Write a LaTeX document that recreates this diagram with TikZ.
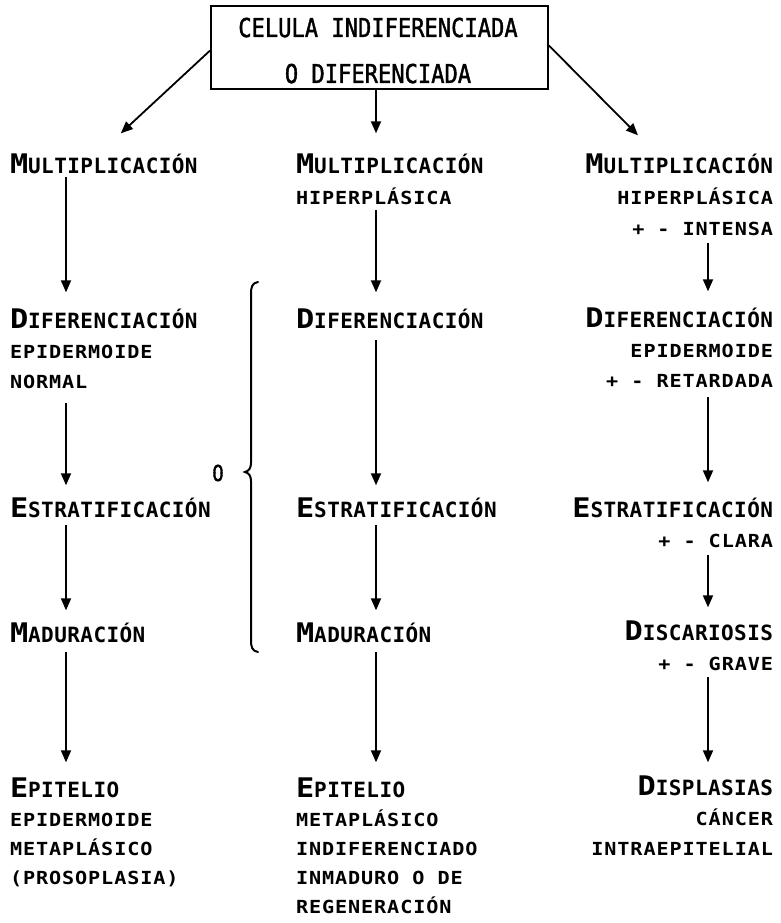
\documentclass[tikz,border=0pt]{standalone}
\usepackage{fontspec}
\usetikzlibrary{arrows.meta,calc}
\setmainfont{DejaVu Sans Mono}
\newfontfamily\titlefont{DejaVu Sans Mono}[FakeStretch=0.85,FakeBold=1.5]
\newfontfamily\headfont{DejaVu Sans Mono}[LetterSpace=2]
\newfontfamily\subfont{DejaVu Sans Mono}[FakeStretch=1.12,LetterSpace=5]
\newcommand\Ini[1]{{\fontsize{27}{27}\selectfont\bfseries #1}}
\newcommand\Hd[1]{{\headfont\fontsize{21}{21}\selectfont\bfseries #1}}
\tikzset{
  lbl/.style={inner sep=0pt, outer sep=0pt, font=\subfont\bfseries\fontsize{18}{30}\selectfont},
  lblL/.style={lbl, align=left, anchor=base west},
  lblR/.style={lbl, align=right, anchor=base east},
  ttl/.style={inner sep=0pt, anchor=base, font=\titlefont\fontsize{26}{26}\selectfont},
  arr/.style={line width=1.8pt, -{Triangle[length=12pt,width=10pt]}},
  brace/.style={line width=2pt, line cap=round}
}
\begin{document}
\begin{tikzpicture}[x=1pt,y=-1pt]
\useasboundingbox (0,0) rectangle (780,923);
% column axes for the connectors
\coordinate (xl) at (66,0);
\coordinate (xm) at (376,0);
\coordinate (xr) at (708,0);

% starting cell
\node[draw, line width=1.8pt, inner sep=0pt, minimum width=337pt, minimum height=83pt] (top) at (379.5,47.5) {};
\node[ttl] (top1) at (378,37) {CELULA INDIFERENCIADA};
\node[ttl] (top2) at (378,83) {O DIFERENCIADA};

% left branch (multi-line blocks are placed by the baseline of their last line)
\node[lblL] (l1) at (10,173) {\Ini{M}\Hd{ULTIPLICACIÓN}};
\node[lblL] (l2) at (10,388) {\Ini{D}\Hd{IFERENCIACIÓN}\\EPIDERMOIDE\\NORMAL};
\node[lblL] (l3) at (10,517) {\Ini{E}\Hd{STRATIFICACIÓN}};
\node[lblL] (l4) at (10,642) {\Ini{M}\Hd{ADURACIÓN}};
\node[lblL, font=\subfont\bfseries\fontsize{18}{29}\selectfont] (l5) at (10,884)
      {\Ini{E}\Hd{PITELIO}\\EPIDERMOIDE\\METAPLÁSICO\\(PROSOPLASIA)};

% middle branch
\node[lblL, font=\subfont\bfseries\fontsize{18}{31}\selectfont] (m1) at (296,204)
      {\Ini{M}\Hd{ULTIPLICACIÓN}\\HIPERPLÁSICA};
\node[lblL] (m2) at (296,328) {\Ini{D}\Hd{IFERENCIACIÓN}};
\node[lblL] (m3) at (296,517) {\Ini{E}\Hd{STRATIFICACIÓN}};
\node[lblL] (m4) at (296,642) {\Ini{M}\Hd{ADURACIÓN}};
\node[lblL, font=\subfont\bfseries\fontsize{18}{29}\selectfont] (m5) at (296,913)
      {\Ini{E}\Hd{PITELIO}\\METAPLÁSICO\\INDIFERENCIADO\\INMADURO O DE\\REGENERACIÓN};

% right branch
\node[lblR, font=\subfont\bfseries\fontsize{18}{31}\selectfont] (r1) at (773,235)
      {\Ini{M}\Hd{ULTIPLICACIÓN}\\HIPERPLÁSICA\\+ - INTENSA};
\node[lblR] (r2) at (773,387) {\Ini{D}\Hd{IFERENCIACIÓN}\\EPIDERMOIDE\\+ - RETARDADA};
\node[lblR] (r3) at (773,547) {\Ini{E}\Hd{STRATIFICACIÓN}\\+ - CLARA};
\node[lblR] (r4) at (773,670) {\Ini{D}\Hd{ISCARIOSIS}\\+ - GRAVE};
\node[lblR, font=\subfont\bfseries\fontsize{18}{30}\selectfont] (r5) at (773,855)
      {\Ini{D}\Hd{ISPLASIAS}\\CÁNCER\\INTRAEPITELIAL};

% alternative marker and brace
\node[lbl, font=\titlefont\fontsize{22}{22}\selectfont] (alt) at (218,473) {O};
\draw[brace] (258,282) .. controls (252,283) and (251,287) .. (251,294)
  -- (251,463) .. controls (251,468) and (249,471) .. (245,472)
  .. controls (249,473) and (251,476) .. (251,481)
  -- (251,640) .. controls (251,647) and (252,651) .. (258,652);

% connectors from the starting cell
\draw[arr] ($(top.west)+(0,3)$) -- ($(l1.north)+(17,-20)$);
\draw[arr] (top.south -| xm) -- ($(m1.north -| xm)+(0,-20)$);
\draw[arr] ($(top.east)+(0,-2)$) -- ($(r1.north -| xr)+(-70,-18)$);

% left column
\draw[arr] ($(l1.south -| xl)+(0,4)$) -- ($(l2.north -| xl)+(0,-16)$);
\draw[arr] ($(l2.south -| xl)+(0,15)$) -- ($(l3.north -| xl)+(0,-12)$);
\draw[arr] ($(l3.south -| xl)+(0,8)$) -- ($(l4.north -| xl)+(0,-12)$);
\draw[arr] ($(l4.south -| xl)+(0,10)$) -- ($(l5.north -| xl)+(0,-15)$);

% middle column
\draw[arr] ($(m1.south -| xm)+(0,6)$) -- ($(m2.north -| xm)+(0,-16)$);
\draw[arr] ($(m2.south -| xm)+(0,12)$) -- ($(m3.north -| xm)+(0,-12)$);
\draw[arr] ($(m3.south -| xm)+(0,8)$) -- ($(m4.north -| xm)+(0,-12)$);
\draw[arr] ($(m4.south -| xm)+(0,10)$) -- ($(m5.north -| xm)+(0,-15)$);

% right column
\draw[arr] ($(r1.south -| xr)+(0,8)$) -- ($(r2.north -| xr)+(0,-16)$);
\draw[arr] ($(r2.south -| xr)+(0,10)$) -- ($(r3.north -| xr)+(0,-15)$);
\draw[arr] ($(r3.south -| xr)+(0,8)$) -- ($(r4.north -| xr)+(0,-13)$);
\draw[arr] ($(r4.south -| xr)+(0,7)$) -- ($(r5.north -| xr)+(0,-13)$);
\end{tikzpicture}
\end{document}
